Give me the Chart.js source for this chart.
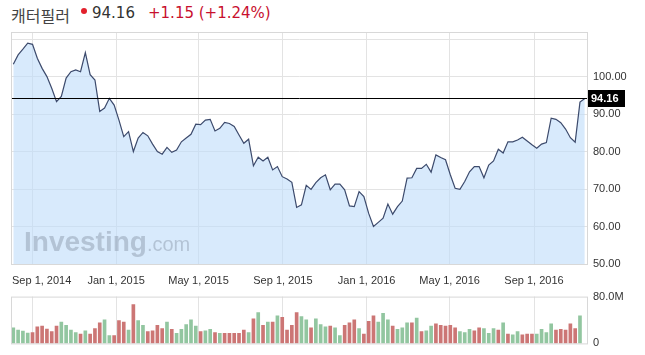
<!DOCTYPE html>
<html>
<head>
<meta charset="utf-8">
<script src="https://cdn.jsdelivr.net/npm/chart.js@4.4.1/dist/chart.umd.min.js"></script>
<style>
    html, body { margin: 0; padding: 0; background: #fff; }
    #wrap { position: relative; width: 645px; height: 355px; overflow: hidden; }
    .hd { position: absolute; top: 4px; line-height: 20px; white-space: nowrap; }
    #name { left: 11px; top: 3px; font: 16px "Noto Sans CJK KR", sans-serif; color: #444; }
    #dot { left: 81px; top: 8px; width: 6px; height: 6px; border-radius: 3px; background: #e2202c; }
    #price { left: 92px; font: 15px "DejaVu Sans", sans-serif; color: #333; }
    #chg { left: 148px; font: 15px "DejaVu Sans", sans-serif; color: #c8102e; }
    #pricePane { position: absolute; left: 0; top: 0; width: 645px; height: 292px; }
    #volPane { position: absolute; left: 0; top: 285px; width: 645px; height: 70px; }
</style>
</head>
<body>
<div id="wrap">
    <div id="name" class="hd">캐터필러</div>
    <div id="dot" class="hd"></div>
    <div id="price" class="hd">94.16</div>
    <div id="chg" class="hd">+1.15 (+1.24%)</div>
    <div id="pricePane"><canvas id="priceChart"></canvas></div>
    <div id="volPane"><canvas id="volChart"></canvas></div>
</div>
<script>
// weekly closes, first week = Aug 4, 2014
const startDate = "2014-08-04";

const prices = [
    103.3, 105.8, 107.3, 108.9, 108.6, 104.9, 102.2, 100.0, 96.9, 93.3,
    94.7, 99.6, 101.3, 101.8, 101.3, 106.4, 100.5, 99.1, 90.7, 91.6,
    94.2, 92.4, 88.4, 84.0, 85.3, 80.0, 83.6, 85.1, 84.2, 82.0,
    80.0, 79.3, 81.1, 79.8, 80.4, 82.6, 83.6, 84.6, 87.3, 87.2,
    88.4, 88.6, 85.5, 86.2, 87.8, 87.5, 86.7, 84.4, 82.2, 83.3,
    76.2, 78.5, 77.5, 78.5, 75.1, 76.0, 73.3, 72.7, 71.8, 65.1,
    65.8, 71.0, 69.9, 71.7, 73.0, 73.8, 69.8, 71.3, 71.3, 69.8,
    65.5, 65.3, 69.3, 68.0, 63.5, 60.0, 61.1, 62.2, 66.0, 63.3,
    65.3, 66.8, 72.9, 73.0, 75.5, 75.5, 76.6, 74.5, 79.1, 78.4,
    77.8, 73.8, 70.2, 69.9, 72.0, 74.6, 76.0, 76.0, 73.0, 76.4,
    77.5, 80.6, 79.6, 82.6, 82.6, 83.1, 83.8, 82.8, 81.8, 80.9,
    82.0, 82.4, 88.9, 88.6, 87.7, 86.0, 83.7, 82.5, 93.2, 94.16
];

// weekly volume, millions
const volumes = [
    26.8, 22.7, 20.9, 17.7, 18.6, 28.2, 29.5, 24.5, 20.0, 29.5,
    36.4, 30.9, 22.7, 18.6, 15.9, 21.4, 15.9, 25.5, 35.0, 40.5,
    13.2, 13.2, 39.1, 36.4, 22.7, 66.4, 39.1, 30.9, 20.0, 21.4,
    30.9, 25.5, 36.4, 24.1, 17.3, 24.1, 32.3, 40.5, 29.5, 20.0,
    21.4, 24.1, 18.6, 17.3, 17.3, 17.3, 17.3, 17.3, 22.7, 18.6,
    41.8, 52.7, 30.9, 36.4, 36.4, 47.3, 44.5, 22.7, 30.9, 52.7,
    45.9, 40.5, 26.8, 41.8, 32.3, 28.2, 29.5, 26.8, 13.2, 30.9,
    35.0, 40.5, 25.5, 15.9, 37.7, 47.3, 36.4, 51.4, 40.5, 29.5,
    24.1, 26.8, 35.0, 35.0, 43.2, 20.0, 21.4, 29.5, 33.6, 30.9,
    29.5, 30.9, 26.8, 20.0, 18.6, 24.1, 21.4, 26.8, 25.5, 17.3,
    25.5, 22.7, 35.0, 15.9, 14.5, 20.0, 14.5, 15.9, 15.9, 15.9,
    24.1, 18.6, 33.6, 22.7, 24.1, 22.7, 33.6, 25.5, 47.3
];

// 1 = up week (green), 0 = down week (red)
const volumeUp = [
    1, 1, 1, 1, 0, 0, 0, 0, 0, 0,
    1, 1, 1, 1, 0, 1, 0, 0, 0, 1,
    1, 0, 0, 0, 1, 0, 1, 1, 0, 0,
    0, 0, 1, 0, 1, 1, 1, 1, 1, 0,
    1, 1, 0, 1, 0, 0, 0, 0, 0, 1,
    0, 1, 0, 1, 0, 1, 0, 0, 0, 0,
    1, 1, 0, 1, 1, 1, 0, 1, 1, 0,
    0, 0, 1, 0, 0, 0, 1, 1, 1, 0,
    1, 1, 1, 0, 1, 0, 1, 1, 0, 0,
    0, 0, 0, 1, 1, 1, 0, 0, 1, 1,
    1, 0, 1, 0, 1, 1, 0, 0, 0, 1,
    1, 1, 1, 0, 0, 0, 0, 0, 1
];

const tickDates = ["2014-09-01", "2015-01-01", "2015-05-01", "2015-09-01", "2016-01-01", "2016-05-01", "2016-09-01"];
const tickLabels = ["Sep 1, 2014", "Jan 1, 2015", "May 1, 2015", "Sep 1, 2015", "Jan 1, 2016", "May 1, 2016", "Sep 1, 2016"];
const priceTicks = [50, 60, 70, 80, 90, 100, 110];
const volumeTicks = [0, 80];

const WEEK_MS = 7 * 24 * 3600 * 1000;
const tickWeeks = tickDates.map(d => (Date.parse(d) - Date.parse(startDate)) / WEEK_MS);
const lastPrice = prices[prices.length - 1];

const X_MIN = -0.48;
const X_MAX = 119.67;
const GRID = "#e3e3e3";
const FRAME = "#d8d8d8";

Chart.defaults.font.family = "Arial, 'Liberation Sans', sans-serif";
Chart.defaults.font.size = 11;
Chart.defaults.color = "#333";

const framePlugin = {
    id: "frame",
    afterDraw(chart) {
        const { ctx, chartArea: a } = chart;
        ctx.save();
        ctx.strokeStyle = FRAME;
        ctx.lineWidth = 1;
        ctx.strokeRect(a.left + 0.5, a.top + 0.5, a.right - a.left - 1, a.bottom - a.top);
        ctx.restore();
    }
};

const lastPricePlugin = {
    id: "lastPrice",
    afterDatasetsDraw(chart) {
        const { ctx, chartArea: a } = chart;
        const y = Math.round(chart.scales.y.getPixelForValue(lastPrice)) + 0.5;
        ctx.save();
        ctx.strokeStyle = "#000";
        ctx.lineWidth = 1;
        ctx.beginPath();
        ctx.moveTo(a.left, y);
        ctx.lineTo(a.right, y);
        ctx.stroke();
        ctx.fillStyle = "#000";
        ctx.fillRect(a.right - 1, y - 8.5, 38, 17);
        ctx.fillStyle = "#fff";
        ctx.font = "bold 11px Arial, 'Liberation Sans', sans-serif";
        ctx.textBaseline = "middle";
        ctx.fillText(lastPrice.toFixed(2), a.right + 3, y + 0.5);
        ctx.restore();
    }
};

const dateLabelPlugin = {
    id: "dateLabels",
    afterDraw(chart) {
        const { ctx, chartArea: a } = chart;
        const xs = chart.scales.x;
        ctx.save();
        ctx.font = "11px Arial, 'Liberation Sans', sans-serif";
        ctx.fillStyle = "#333";
        ctx.textBaseline = "middle";
        tickWeeks.forEach((w, i) => {
            const text = tickLabels[i];
            const tw = ctx.measureText(text).width;
            let left = xs.getPixelForValue(w) - tw / 2;
            if (left < a.left + 1) left = a.left + 1;
            ctx.fillText(text, left, a.bottom + 17);
        });
        ctx.restore();
    }
};

const watermarkPlugin = {
    id: "watermark",
    afterDatasetsDraw(chart) {
        const { ctx, chartArea: a } = chart;
        ctx.save();
        ctx.fillStyle = "rgba(135,148,166,0.45)";
        ctx.textBaseline = "alphabetic";
        ctx.font = "bold 28px Arial, 'Liberation Sans', sans-serif";
        ctx.fillText("Investing", a.left + 13, a.bottom - 13);
        const w = ctx.measureText("Investing").width;
        ctx.font = "20px Arial, 'Liberation Sans', sans-serif";
        ctx.fillText(".com", a.left + 13 + w, a.bottom - 13);
        ctx.restore();
    }
};

new Chart(document.getElementById("priceChart").getContext("2d"), {
    type: "line",
    data: {
        datasets: [{
            data: prices.map((p, i) => ({ x: i, y: p })),
            borderColor: "#3c4a6c",
            borderWidth: 1.2,
            backgroundColor: "rgba(190,220,250,0.6)",
            fill: "start",
            pointRadius: 0,
            tension: 0
        }]
    },
    options: {
        animation: false,
        responsive: true,
        maintainAspectRatio: false,
        layout: { padding: { left: 11, top: 32, right: 0, bottom: 0 } },
        plugins: {
            legend: { display: false },
            tooltip: { enabled: false }
        },
        scales: {
            x: {
                type: "linear",
                min: X_MIN,
                max: X_MAX,
                afterBuildTicks: s => { s.ticks = tickWeeks.map(v => ({ value: v })); },
                afterFit: s => { s.height = 28; },
                ticks: { display: false },
                grid: { color: GRID, drawTicks: false },
                border: { display: false }
            },
            y: {
                position: "right",
                min: 50,
                max: 111.9,
                afterBuildTicks: s => { s.ticks = priceTicks.map(v => ({ value: v })); },
                afterFit: s => { s.width = 57; },
                ticks: {
                    padding: 5,
                    callback: v => (v <= 100 ? v.toFixed(2) : "")
                },
                grid: { color: GRID, drawTicks: false },
                border: { display: false }
            }
        }
    },
    plugins: [watermarkPlugin, lastPricePlugin, framePlugin, dateLabelPlugin]
});

new Chart(document.getElementById("volChart").getContext("2d"), {
    type: "bar",
    data: {
        datasets: [{
            data: volumes.map((v, i) => ({ x: i, y: v })),
            backgroundColor: volumeUp.map(u => (u ? "#92c6a0" : "#cc7675")),
            barThickness: 3
        }]
    },
    options: {
        animation: false,
        responsive: true,
        maintainAspectRatio: false,
        layout: { padding: { left: 11, top: 7, right: 0, bottom: 4 } },
        plugins: {
            legend: { display: false },
            tooltip: { enabled: false }
        },
        scales: {
            x: {
                type: "linear",
                min: X_MIN,
                max: X_MAX,
                offset: false,
                afterBuildTicks: s => { s.ticks = tickWeeks.map(v => ({ value: v })); },
                afterFit: s => { s.height = 0; },
                ticks: { display: false },
                grid: { color: GRID, drawTicks: false, offset: false },
                border: { display: false }
            },
            y: {
                position: "right",
                min: 0,
                max: 80,
                afterBuildTicks: s => { s.ticks = volumeTicks.map(v => ({ value: v })); },
                afterFit: s => { s.width = 57; },
                ticks: {
                    padding: 5,
                    callback: v => (v === 0 ? "0" : v.toFixed(1) + "M")
                },
                grid: { display: false, drawTicks: false },
                border: { display: false }
            }
        }
    },
    plugins: [framePlugin]
});
</script>
</body>
</html>
